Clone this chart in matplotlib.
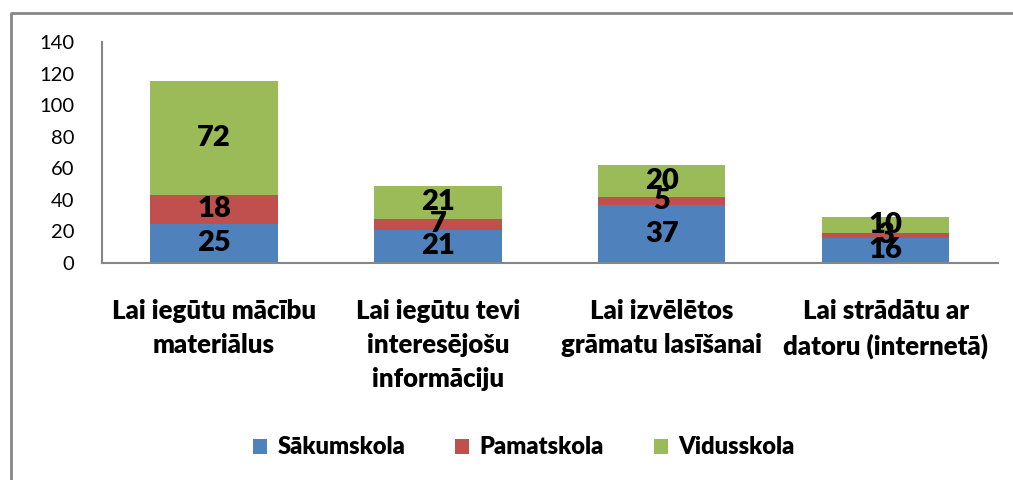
import matplotlib.pyplot as plt
from matplotlib.lines import Line2D
import numpy as np

kategorijas = [
    "Lai iegūtu mācību\nmateriālus",
    "Lai iegūtu tevi\ninteresējošu\ninformāciju",
    "Lai izvēlētos\ngrāmatu lasīšanai",
    "Lai strādātu ar\ndatoru (internetā)",
]
sakumskola = [25, 21, 37, 16]
pamatskola = [18, 7, 5, 3]
vidusskola = [72, 21, 20, 10]

serijas = [
    ("Sākumskola", sakumskola, "#4f81bd"),
    ("Pamatskola", pamatskola, "#c0504d"),
    ("Vidusskola", vidusskola, "#9bbb59"),
]

plt.rcParams["font.family"] = ["Lato", "DejaVu Sans"]

fig = plt.figure(figsize=(10.13, 4.8), dpi=100)
ax = fig.add_axes([0.1007, 0.452, 0.884, 0.4605])

x = np.arange(len(kategorijas))
apaksa = np.zeros(len(kategorijas))
for nosaukums, vertibas, krasa in serijas:
    stabini = ax.bar(x, vertibas, 0.57, bottom=apaksa, color=krasa, label=nosaukums)
    for s, v in zip(stabini, vertibas):
        ax.text(s.get_x() + s.get_width() / 2, s.get_y() + v / 2, str(v),
                ha="center", va="center", fontsize=21, fontweight="heavy", color="black")
    apaksa += np.array(vertibas)

ax.set_xlim(-0.5, len(kategorijas) - 0.5)
ax.set_ylim(0, 140)
ax.set_yticks(range(0, 141, 20))
ax.tick_params(axis="y", length=0, labelsize=14.5, pad=20)
ax.tick_params(axis="x", length=0, pad=26)
ax.set_xticks(x)
ax.set_xticklabels(kategorijas, fontsize=18.5, fontweight="heavy", linespacing=1.5)
for side in ["top", "right"]:
    ax.spines[side].set_visible(False)
for side in ["left", "bottom"]:
    ax.spines[side].set_color("#868686")
    ax.spines[side].set_linewidth(1.5)

ax.legend(loc="center", bbox_to_anchor=(0.517, 0.068), bbox_transform=fig.transFigure,
          ncol=3, frameon=False, prop={"size": 17, "weight": "heavy"},
          handlelength=0.6, handleheight=0.6, handletextpad=0.45, columnspacing=2.1)

# rāmis ap diagrammu
fx = 11 / 1013
fy = 1 - 13 / 480
fig.add_artist(Line2D([fx, fx, 1], [0, fy, fy], transform=fig.transFigure,
                      color="#878787", linewidth=2))

plt.savefig("out.png", dpi=100)
plt.close()
